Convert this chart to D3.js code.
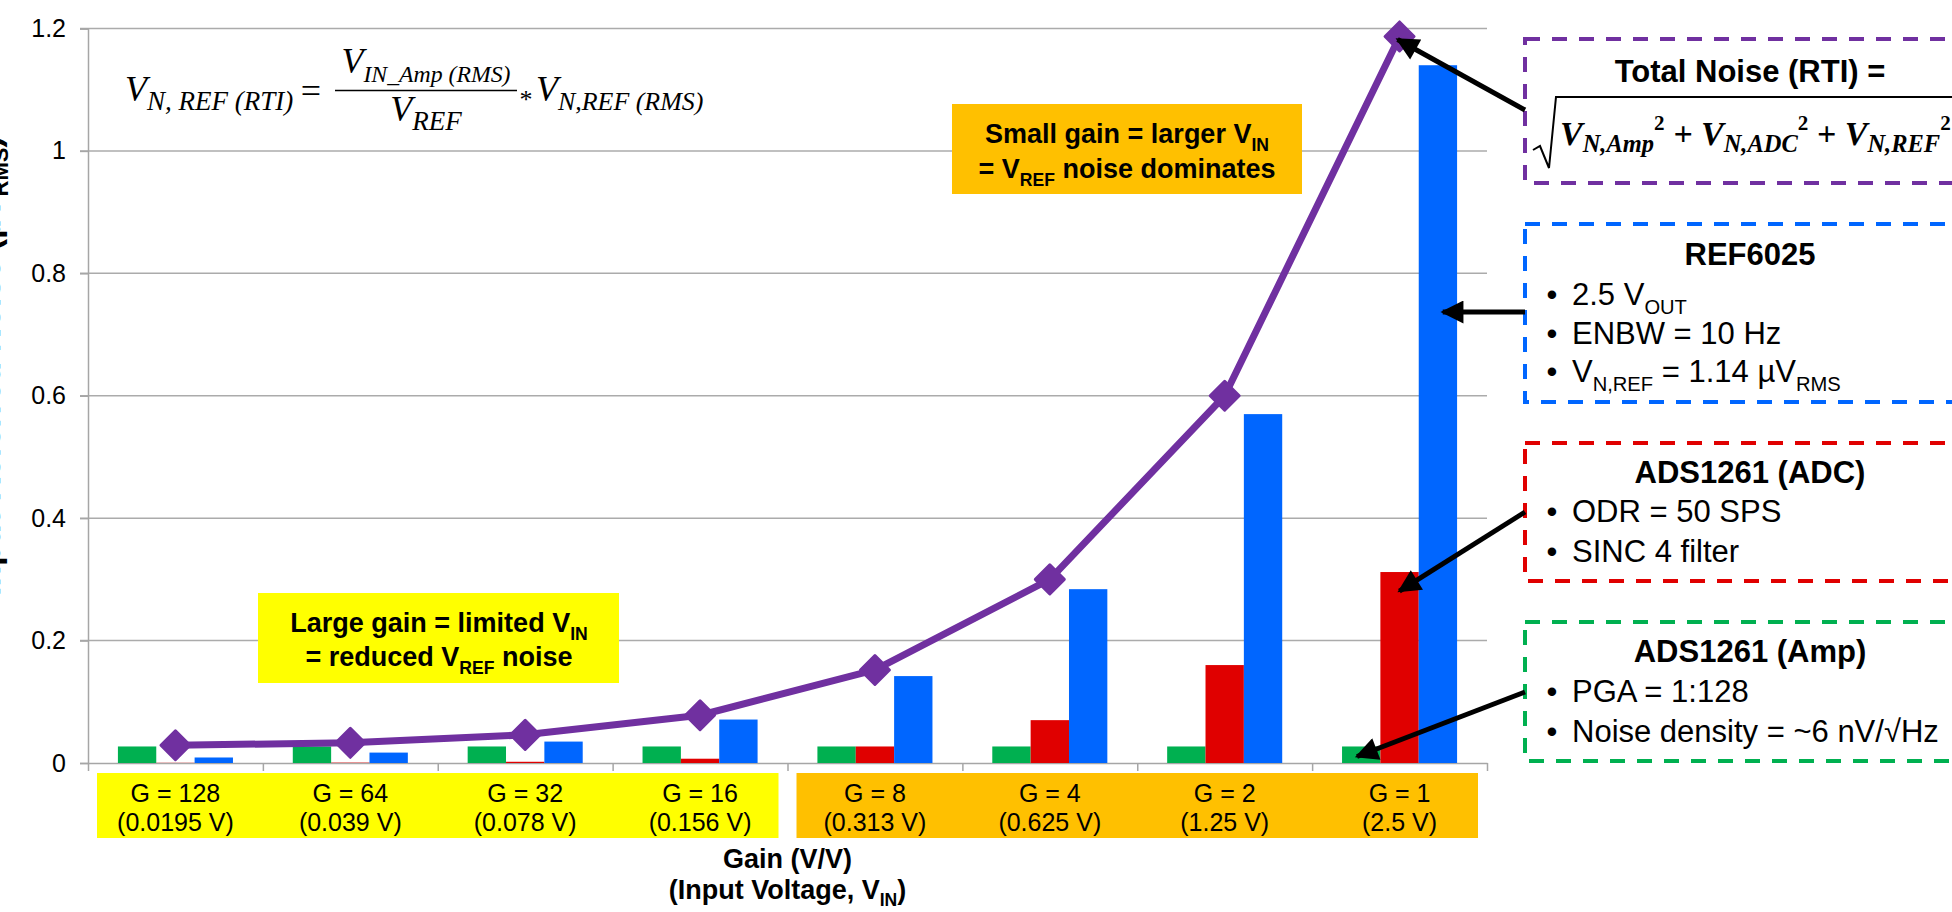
<!DOCTYPE html>
<html><head><meta charset="utf-8">
<script src="https://cdn.jsdelivr.net/npm/d3@7"></script>
<style>
html,body{margin:0;padding:0;background:#fff;overflow:hidden}
svg{display:block}
text{font-family:"Liberation Sans",Arial,sans-serif;fill:#000}
</style></head><body>
<svg id="chart" width="1952" height="912"></svg>
<script>
// ---------- data ----------
const categories = ["G = 128","G = 64","G = 32","G = 16","G = 8","G = 4","G = 2","G = 1"];
const inputVoltages = ["(0.0195 V)","(0.039 V)","(0.078 V)","(0.156 V)","(0.313 V)","(0.625 V)","(1.25 V)","(2.5 V)"];
const seriesKeys = ["amp","adc","ref"];
const ampNoise = [0.027,0.027,0.027,0.027,0.027,0.027,0.027,0.027];
const adcNoise = [0.0003,0.0006,0.002,0.007,0.027,0.07,0.16,0.312];
const refNoise = [0.009,0.017,0.035,0.071,0.142,0.284,0.57,1.14];
const totalNoise = [0.029,0.033,0.046,0.078,0.152,0.30,0.60,1.187];
const yTicks = [0,0.2,0.4,0.6,0.8,1,1.2];
const seriesColors = {amp:"#00B050", adc:"#E00000", ref:"#0066FF"};
const totalColor = "#7030A0";

// ---------- layout ----------
const svg = d3.select("#chart");
const L = 88, R = 1487, T = 28.5, B = 763;
const x = d3.scaleBand().domain(categories).range([L, R]).paddingInner(0).paddingOuter(0);
const x1 = d3.scaleBand().domain(seriesKeys).range([0, x.bandwidth()]).paddingInner(0).paddingOuter(0.78);
const y = d3.scaleLinear().domain([0, 1.2]).range([B, T]);
const idx = d3.scaleLinear().domain([0, categories.length]).range([L, R]);
const cx = c => x(c) + x.bandwidth() / 2;

// gridlines
svg.append("g").selectAll("line").data(yTicks.filter(d => d > 0)).join("line")
  .attr("x1", L - 8).attr("x2", R).attr("y1", d => y(d)).attr("y2", d => y(d))
  .attr("stroke", "#ABABAB").attr("stroke-width", 1.5);

// y axis
const yAxis = svg.append("g").attr("transform", `translate(${L},0)`)
  .call(d3.axisLeft(y).tickValues(yTicks).tickFormat(d3.format("~g")).tickSize(8).tickPadding(14));
yAxis.selectAll("path,line").attr("stroke", "#A6A6A6").attr("stroke-width", 1.5);
yAxis.selectAll("text").attr("font-size", 25).attr("font-family", '"Liberation Sans",Arial,sans-serif').attr("fill", "#000");

// x axis (ticks at category boundaries)
const xAxis = svg.append("g").attr("transform", `translate(0,${B})`)
  .call(d3.axisBottom(idx).tickValues(d3.range(categories.length + 1)).tickFormat("").tickSize(8).tickSizeOuter(0));
xAxis.selectAll("path,line").attr("stroke", "#A6A6A6").attr("stroke-width", 1.5);

// bars
const rows = categories.map((c, i) => ({c, amp: ampNoise[i], adc: adcNoise[i], ref: refNoise[i]}));
svg.append("g").selectAll("g").data(rows).join("g")
  .attr("transform", d => `translate(${x(d.c)},0)`)
  .selectAll("rect").data(d => seriesKeys.map(k => ({k, v: d[k]}))).join("rect")
  .attr("x", d => x1(d.k)).attr("width", x1.bandwidth())
  .attr("y", d => y(d.v)).attr("height", d => B - y(d.v))
  .attr("fill", d => seriesColors[d.k]);

// total line
const line = d3.line().x((d, i) => cx(categories[i])).y(d => y(d));
svg.append("path").datum(totalNoise).attr("d", line).attr("fill", "none")
  .attr("stroke", totalColor).attr("stroke-width", 7).attr("stroke-linejoin", "round");
svg.append("g").selectAll("path").data(totalNoise).join("path")
  .attr("d", d3.symbol(d3.symbolSquare, 420))
  .attr("transform", (d, i) => `translate(${cx(categories[i])},${y(d)}) rotate(45)`)
  .attr("fill", totalColor).attr("stroke", totalColor).attr("stroke-width", 3).attr("stroke-linejoin", "round");

// rich text helper
function rich(sel, xx, yy, parts, size, opts = {}) {
  const t = sel.append("text").attr("x", xx).attr("y", yy).attr("font-size", size)
    .attr("text-anchor", opts.anchor || "start").attr("font-weight", opts.weight || "normal");
  if (opts.family) t.style("font-family", opts.family);
  if (opts.style) t.style("font-style", opts.style);
  let cur = 0;
  parts.forEach(p => {
    const off = p.sub ? size * (p.subShift || 0.3) : p.sup ? -size * 0.45 : 0;
    const fs = (p.sub || p.sup) ? size * (p.scale || 0.65) : size;
    const ts = t.append("tspan").attr("dy", off - cur).attr("font-size", fs).text(p.t);
    if (p.upright) ts.style("font-style", "normal");
    cur = off;
  });
  return t;
}

// category label backgrounds
const catBoxes = [{from: 0, to: 4, fill: "#FFFF00"}, {from: 4, to: 8, fill: "#FFC000"}];
svg.append("g").selectAll("rect").data(catBoxes).join("rect")
  .attr("x", d => idx(d.from) + 9).attr("width", d => idx(d.to) - idx(d.from) - 18)
  .attr("y", 773).attr("height", 65).attr("fill", d => d.fill);
const catG = svg.append("g");
categories.forEach((c, i) => {
  catG.append("text").attr("x", cx(c)).attr("y", 802).attr("text-anchor", "middle").attr("font-size", 25).text(c);
  catG.append("text").attr("x", cx(c)).attr("y", 831).attr("text-anchor", "middle").attr("font-size", 25).text(inputVoltages[i]);
});

// x title
const xc = (L + R) / 2;
svg.append("text").attr("x", xc).attr("y", 868).attr("text-anchor", "middle").attr("font-size", 27).attr("font-weight", "bold").text("Gain (V/V)");
rich(svg, xc, 899, [{t: "(Input Voltage, V"}, {t: "IN", sub: true, subShift: 0.25}, {t: ")"}], 27, {anchor: "middle", weight: "bold"});

// y title (mostly clipped by left edge)
rich(svg.append("g").attr("transform", "translate(-0.5,366) rotate(-90)"), 0, 0,
  [{t: "Input-Referred Noise (µV"}, {t: "RMS", sub: true, subShift: 0.25}, {t: ")"}], 34, {anchor: "middle", weight: "bold"});

// annotation: small gain
svg.append("rect").attr("x", 952).attr("y", 104).attr("width", 350).attr("height", 90).attr("fill", "#FFC000");
rich(svg, 1127, 143, [{t: "Small gain = larger V"}, {t: "IN", sub: true}], 27, {anchor: "middle", weight: "bold"});
rich(svg, 1127, 178, [{t: "= V"}, {t: "REF", sub: true}, {t: " noise dominates"}], 27, {anchor: "middle", weight: "bold"});

// annotation: large gain
svg.append("rect").attr("x", 258).attr("y", 593).attr("width", 361).attr("height", 90).attr("fill", "#FFFF00");
rich(svg, 439, 632, [{t: "Large gain = limited V"}, {t: "IN", sub: true}], 27, {anchor: "middle", weight: "bold"});
rich(svg, 439, 666, [{t: "= reduced V"}, {t: "REF", sub: true}, {t: " noise"}], 27, {anchor: "middle", weight: "bold"});

// top-left formula
const fg = svg.append("g");
const mf = '"Liberation Serif","Times New Roman",serif';
rich(fg, 125, 101, [{t: "V"}, {t: "N, REF (RTI)", sub: true, scale: 0.75, subShift: 0.25}], 36, {family: mf, style: "italic"});
fg.append("text").attr("x", 311).attr("y", 103).attr("text-anchor", "middle").attr("font-size", 36).style("font-family", mf).text("=");
fg.append("line").attr("x1", 335).attr("x2", 517).attr("y1", 90.5).attr("y2", 90.5).attr("stroke", "#000").attr("stroke-width", 1.6);
rich(fg, 426, 73, [{t: "V"}, {t: "IN_Amp (RMS)", sub: true, scale: 0.66, subShift: 0.25}], 36, {anchor: "middle", family: mf, style: "italic"});
rich(fg, 426, 121, [{t: "V"}, {t: "REF", sub: true, scale: 0.75, subShift: 0.25}], 36, {anchor: "middle", family: mf, style: "italic"});
fg.append("text").attr("x", 526).attr("y", 108).attr("text-anchor", "middle").attr("font-size", 26).style("font-family", mf).text("*");
rich(fg, 536, 101, [{t: "V"}, {t: "N,REF (RMS)", sub: true, scale: 0.72, subShift: 0.25}], 36, {family: mf, style: "italic"});

// right-side dashed boxes
const boxes = [
  {y0: 39, y1: 183, color: "#7030A0"},
  {y0: 224, y1: 402, color: "#0066FF"},
  {y0: 443, y1: 581, color: "#E00000"},
  {y0: 622, y1: 761, color: "#00B050"}
];
svg.append("g").selectAll("rect").data(boxes).join("rect")
  .attr("x", 1525).attr("y", d => d.y0).attr("width", 480).attr("height", d => d.y1 - d.y0)
  .attr("fill", "none").attr("stroke", d => d.color).attr("stroke-width", 4).attr("stroke-dasharray", "15 12");

const bx = 1750;
// purple box content
svg.append("text").attr("x", bx).attr("y", 82).attr("text-anchor", "middle").attr("font-size", 31).attr("font-weight", "bold").text("Total Noise (RTI) =");
svg.append("path").attr("d", "M1533,150 L1540,146 L1549,168 L1556,97 L1960,97").attr("fill", "none").attr("stroke", "#000").attr("stroke-width", 2);
rich(svg, 1560, 145, [
  {t: "V"}, {t: "N,Amp", sub: true, subShift: 0.22, scale: 0.72}, {t: "2", sup: true, upright: true, scale: 0.62},
  {t: " + V"}, {t: "N,ADC", sub: true, subShift: 0.22, scale: 0.72}, {t: "2", sup: true, upright: true, scale: 0.62},
  {t: " + V"}, {t: "N,REF", sub: true, subShift: 0.22, scale: 0.72}, {t: "2", sup: true, upright: true, scale: 0.62}
], 34, {family: mf, style: "italic", weight: "bold"});

function bullet(yy, parts) {
  svg.append("text").attr("x", 1552).attr("y", yy).attr("text-anchor", "middle").attr("font-size", 31).text("•");
  rich(svg, 1572, yy, parts, 31);
}
// blue box
svg.append("text").attr("x", bx).attr("y", 265).attr("text-anchor", "middle").attr("font-size", 31).attr("font-weight", "bold").text("REF6025");
bullet(305, [{t: "2.5 V"}, {t: "OUT", sub: true}]);
bullet(344, [{t: "ENBW = 10 Hz"}]);
bullet(382, [{t: "V"}, {t: "N,REF", sub: true}, {t: " = 1.14 µV"}, {t: "RMS", sub: true}]);
// red box
svg.append("text").attr("x", bx).attr("y", 483).attr("text-anchor", "middle").attr("font-size", 31).attr("font-weight", "bold").text("ADS1261 (ADC)");
bullet(522, [{t: "ODR = 50 SPS"}]);
bullet(562, [{t: "SINC 4 filter"}]);
// green box
svg.append("text").attr("x", bx).attr("y", 662).attr("text-anchor", "middle").attr("font-size", 31).attr("font-weight", "bold").text("ADS1261 (Amp)");
bullet(702, [{t: "PGA = 1:128"}]);
bullet(742, [{t: "Noise density = ~6 nV/√Hz"}]);

// arrows
const defs = svg.append("defs");
defs.append("marker").attr("id", "ah").attr("viewBox", "0 0 10 10").attr("refX", 9).attr("refY", 5)
  .attr("markerWidth", 5).attr("markerHeight", 4.6).attr("markerUnits", "strokeWidth").attr("orient", "auto")
  .append("path").attr("d", "M0,0 L10,5 L0,10 Z").attr("fill", "#000");
const last = categories[categories.length - 1];
const arrows = [
  {x1: 1525, y1: 110, x2: cx(last) - 2, y2: y(totalNoise[7]) + 3},
  {x1: 1525, y1: 312, x2: x(last) + x1("ref") + 24, y2: 312},
  {x1: 1525, y1: 512, x2: x(last) + x1("adc") + 19, y2: y(adcNoise[7]) + 19},
  {x1: 1525, y1: 692, x2: x(last) + x1("amp") + 15, y2: y(ampNoise[7]) + 10}
];
svg.append("g").selectAll("line").data(arrows).join("line")
  .attr("x1", d => d.x1).attr("y1", d => d.y1).attr("x2", d => d.x2).attr("y2", d => d.y2)
  .attr("stroke", "#000").attr("stroke-width", 5).attr("marker-end", "url(#ah)");
</script>
</body></html>
